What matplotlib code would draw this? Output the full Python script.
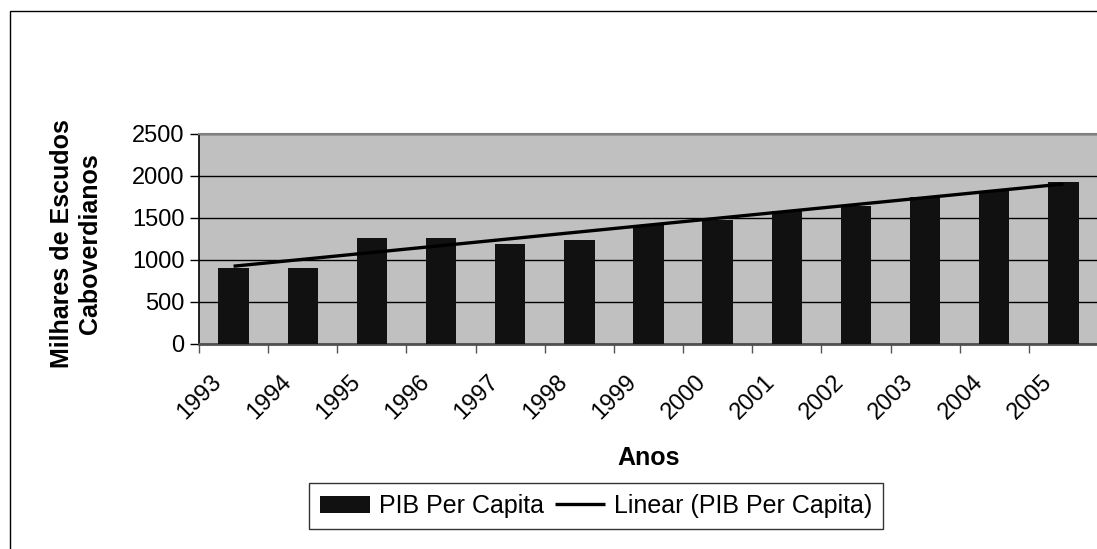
import numpy as np
import matplotlib
matplotlib.use("Agg")
import matplotlib.pyplot as plt
from matplotlib.patches import Rectangle
from matplotlib.transforms import ScaledTranslation

anos = ['1993', '1994', '1995', '1996', '1997', '1998', '1999',
        '2000', '2001', '2002', '2003', '2004', '2005']
pib_per_capita = [908, 908, 1262, 1262, 1190, 1240, 1420,
                  1480, 1580, 1646, 1755, 1822, 1930]
y_ticks = [0, 500, 1000, 1500, 2000, 2500]

plt.rcParams['font.family'] = ['Liberation Sans', 'DejaVu Sans']

W, H = 1097, 549
fig = plt.figure(figsize=(W / 100, H / 100), dpi=100)
ax = fig.add_axes([199 / W, 1 - 344 / H, 899 / W, 210 / H])
ax.set_facecolor('#C0C0C0')

x = np.arange(len(anos))
bars = ax.bar(x, pib_per_capita, width=0.44, color='#111111', zorder=3,
              label='PIB Per Capita')

# linear trend like Excel's trendline
coef = np.polyfit(x, pib_per_capita, 1)
trend, = ax.plot(x, np.polyval(coef, x), color='black', lw=2.4, zorder=4,
                 solid_capstyle='butt', label='Linear (PIB Per Capita)')

ax.set_xlim(-0.5, len(anos) - 0.5)
ax.set_ylim(0, 2500)
ax.set_yticks(y_ticks)
ax.yaxis.grid(True, color='black', lw=1, zorder=1)
ax.set_axisbelow(True)

ax.set_xticks(x)
ax.set_xticklabels(anos, rotation=45, ha='right', va='center',
                   rotation_mode='anchor', fontsize=17)
ax.set_xticks(np.arange(len(anos) + 1) - 0.5, minor=True)
ax.tick_params(axis='x', which='major', length=0, pad=25)
ax.tick_params(axis='x', which='minor', length=6.5, color='#555555', width=1,
               direction='out')
ax.tick_params(axis='y', length=6.5, width=1, color='black', labelsize=17, pad=4)
shift = ScaledTranslation(-15 / 100, 0, fig.dpi_scale_trans)
for lab in ax.get_xticklabels():
    lab.set_transform(lab.get_transform() + shift)

ax.spines['top'].set_color('#808080')
ax.spines['top'].set_linewidth(1.5)
ax.spines['right'].set_visible(False)
ax.spines['left'].set_color('black')
ax.spines['left'].set_linewidth(1.2)
ax.spines['bottom'].set_color('#505050')
ax.spines['bottom'].set_linewidth(2)

ax.set_xlabel('Anos', fontsize=18, fontweight='bold', va='center')
ax.xaxis.set_label_coords(0.5, -(458 - 344) / 210)
ax.set_ylabel('Milhares de Escudos\nCaboverdianos', fontsize=18,
              fontweight='bold', va='center', ha='center', linespacing=1.25)
ax.yaxis.set_label_coords(-(199 - 76) / 899, 0.48)

leg = ax.legend(handles=[bars, trend], loc='center',
                bbox_to_anchor=(596 / W, 1 - 506 / H),
                bbox_transform=fig.transFigure, ncol=2, fontsize=18,
                frameon=True, fancybox=False, edgecolor='black',
                handlelength=2.0, handletextpad=0.35, columnspacing=0.45,
                borderpad=0.45, borderaxespad=0)
leg.get_frame().set_linewidth(1)

# chart area border (cut off at right and bottom in the original)
fig.patches.append(Rectangle((10 / W, -0.1), 1.2, 1.1 - 11 / H,
                             transform=fig.transFigure, fill=False,
                             edgecolor='black', lw=1))

fig.savefig('out.png', dpi=100)
